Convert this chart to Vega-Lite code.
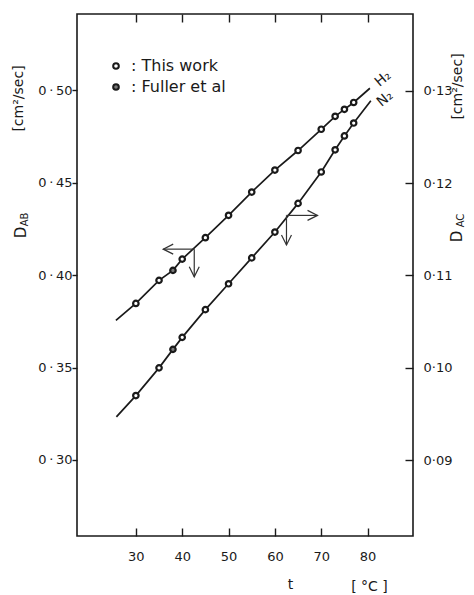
{
  "$schema": "https://vega.github.io/schema/vega-lite/v6.json",
  "width": 336,
  "height": 522,
  "autosize": {"type": "none"},
  "padding": {"left": 77, "top": 14, "right": 61, "bottom": 59},
  "background": "white",
  "config": {
    "view": {"stroke": "#1a1a1a", "strokeWidth": 1.6},
    "font": "DejaVu Sans",
    "axis": {"grid": false, "domain": false, "tickColor": "#1a1a1a", "tickWidth": 1.4, "labelColor": "#1a1a1a", "titleColor": "#1a1a1a", "labelFont": "DejaVu Sans", "titleFont": "DejaVu Sans", "titleFontWeight": "normal", "labelFontSize": 13}
  },
  "datasets": {
    "h2": [
      {"t": 30, "d": 0.3847, "src": "This work"},
      {"t": 35, "d": 0.3972, "src": "This work"},
      {"t": 38, "d": 0.4026, "src": "Fuller et al"},
      {"t": 40, "d": 0.4087, "src": "This work"},
      {"t": 45, "d": 0.4203, "src": "This work"},
      {"t": 50, "d": 0.4324, "src": "This work"},
      {"t": 55, "d": 0.4450, "src": "This work"},
      {"t": 60, "d": 0.4569, "src": "This work"},
      {"t": 65, "d": 0.4675, "src": "This work"},
      {"t": 70, "d": 0.4790, "src": "This work"},
      {"t": 73, "d": 0.4860, "src": "This work"},
      {"t": 75, "d": 0.4898, "src": "This work"},
      {"t": 77, "d": 0.4935, "src": "This work"}
    ],
    "n2": [
      {"t": 30, "d": 0.0970, "src": "This work"},
      {"t": 35, "d": 0.1000, "src": "This work"},
      {"t": 38, "d": 0.1020, "src": "Fuller et al"},
      {"t": 40, "d": 0.1033, "src": "This work"},
      {"t": 45, "d": 0.1063, "src": "This work"},
      {"t": 50, "d": 0.1091, "src": "This work"},
      {"t": 55, "d": 0.1119, "src": "This work"},
      {"t": 60, "d": 0.1147, "src": "This work"},
      {"t": 65, "d": 0.1178, "src": "This work"},
      {"t": 70, "d": 0.1212, "src": "This work"},
      {"t": 73, "d": 0.1236, "src": "This work"},
      {"t": 75, "d": 0.1251, "src": "This work"},
      {"t": 77, "d": 0.1265, "src": "This work"}
    ],
    "h2line": [
      {"t": 25.7, "d": 0.3755}, {"t": 30, "d": 0.3847}, {"t": 35, "d": 0.3972}, {"t": 38, "d": 0.4026},
      {"t": 40, "d": 0.4087}, {"t": 45, "d": 0.4203}, {"t": 50, "d": 0.4324}, {"t": 55, "d": 0.4450},
      {"t": 60, "d": 0.4569}, {"t": 65, "d": 0.4675}, {"t": 70, "d": 0.4790}, {"t": 73, "d": 0.4860},
      {"t": 75, "d": 0.4898}, {"t": 77, "d": 0.4935}, {"t": 80.5, "d": 0.5012}
    ],
    "n2line": [
      {"t": 25.8, "d": 0.0947}, {"t": 30, "d": 0.0970}, {"t": 35, "d": 0.1000}, {"t": 38, "d": 0.1020},
      {"t": 40, "d": 0.1033}, {"t": 45, "d": 0.1063}, {"t": 50, "d": 0.1091}, {"t": 55, "d": 0.1119},
      {"t": 60, "d": 0.1147}, {"t": 65, "d": 0.1178}, {"t": 70, "d": 0.1212}, {"t": 73, "d": 0.1236},
      {"t": 75, "d": 0.1251}, {"t": 77, "d": 0.1265}, {"t": 80.7, "d": 0.1289}
    ],
    "h2arrows": [
      {"t": 42.6, "t2": 35.9, "d": 0.4141, "d2": 0.4141},
      {"t": 42.6, "t2": 42.6, "d": 0.4141, "d2": 0.3991}
    ],
    "n2arrows": [
      {"t": 62.5, "t2": 69.2, "d": 0.1165, "d2": 0.1165},
      {"t": 62.5, "t2": 62.5, "d": 0.1165, "d2": 0.1133}
    ],
    "h2heads": [{"t": 35.9, "d": 0.4141, "dir": "left"}, {"t": 42.6, "d": 0.3991, "dir": "down"}],
    "n2heads": [{"t": 69.2, "d": 0.1165, "dir": "right"}, {"t": 62.5, "d": 0.1133, "dir": "down"}],
    "h2lab": [{"t": 83.35, "d": 0.5062, "name": "H₂"}],
    "n2lab": [{"t": 83.8, "d": 0.1291, "name": "N₂"}]
  },
  "layer": [
    {
      "layer": [
        {
          "data": {"name": "h2line"},
          "mark": {"type": "line", "color": "#1a1a1a", "strokeWidth": 1.7},
          "encoding": {
            "x": {"field": "t", "type": "quantitative", "scale": {"domain": [17.3, 89.8], "nice": false, "zero": false},
              "axis": {"orient": "bottom", "values": [30, 40, 50, 60, 70, 80], "ticks": true, "tickSize": -8, "labelPadding": 22, "labelFontSize": 13, "title": "t", "titleX": 213, "titleY": 48, "titleAlign": "center", "titleBaseline": "middle", "titleFontSize": 14, "titleAngle": 0}},
            "y": {"field": "d", "type": "quantitative", "scale": {"domain": [0.2588, 0.5414], "nice": false, "zero": false},
              "axis": {"orient": "left", "values": [0.3, 0.35, 0.4, 0.45, 0.5], "tickSize": 5, "labelPadding": 0, "labelExpr": "replace(format(datum.value, '.2f'), '.', '\u2009·\u2009')", "title": "D", "titleX": -57, "titleY": 218, "titleAngle": -90, "titleAlign": "center", "titleBaseline": "middle", "titleFontSize": 15}}
          }
        },
        {
          "data": {"name": "h2"},
          "mark": {"type": "point", "filled": true, "stroke": "#1a1a1a", "strokeWidth": 2.2, "size": 30, "opacity": 1},
          "encoding": {
            "x": {"field": "t", "type": "quantitative", "scale": {"domain": [17.3, 89.8], "nice": false, "zero": false}},
            "y": {"field": "d", "type": "quantitative", "scale": {"domain": [0.2588, 0.5414], "nice": false, "zero": false},
              "axis": {"orient": "left", "labels": false, "ticks": false, "domain": false, "title": "AB", "titleX": -53, "titleY": 205, "titleAngle": -90, "titleAlign": "center", "titleBaseline": "middle", "titleFontSize": 10}},
            "fill": {"field": "src", "type": "nominal", "scale": {"domain": ["This work", "Fuller et al"], "range": ["#ffffff", "#7a7a7a"]},
              "legend": {"orient": "none", "legendX": 31, "legendY": 44, "title": null, "labelExpr": "': ' + datum.label", "labelFont": "DejaVu Sans", "labelFontSize": 16, "labelColor": "#1a1a1a", "symbolType": "circle", "symbolSize": 32, "symbolStrokeColor": "#1a1a1a", "symbolStrokeWidth": 2, "rowPadding": 5, "labelOffset": 7, "padding": 0}}
          }
        },
        {
          "data": {"name": "h2arrows"},
          "mark": {"type": "rule", "color": "#333333", "strokeWidth": 1.2},
          "encoding": {
            "x": {"field": "t", "type": "quantitative", "scale": {"domain": [17.3, 89.8], "nice": false, "zero": false}},
            "x2": {"field": "t2"},
            "y": {"field": "d", "type": "quantitative", "scale": {"domain": [0.2588, 0.5414], "nice": false, "zero": false},
              "axis": {"orient": "left", "labels": false, "ticks": false, "domain": false, "title": "[cm²/sec]", "titleX": -59, "titleY": 84, "titleAngle": -90, "titleAlign": "center", "titleBaseline": "middle", "titleFontSize": 14}},
            "y2": {"field": "d2"}
          }
        },
        {
          "data": {"name": "h2heads"},
          "mark": {"type": "point", "filled": false, "stroke": "#333333", "strokeWidth": 1.2, "size": 100, "opacity": 1},
          "encoding": {
            "x": {"field": "t", "type": "quantitative", "scale": {"domain": [17.3, 89.8], "nice": false, "zero": false}},
            "y": {"field": "d", "type": "quantitative", "scale": {"domain": [0.2588, 0.5414], "nice": false, "zero": false}, "axis": null},
            "shape": {"field": "dir", "type": "nominal", "scale": {"domain": ["left", "down", "right"], "range": ["M2,-1L0,0L2,1", "M-1,-2L0,0L1,-2", "M-2,-1L0,0L-2,1"]}, "legend": null}
          }
        },
        {
          "data": {"name": "h2lab"},
          "mark": {"type": "text", "angle": -40, "font": "DejaVu Sans", "fontSize": 14, "color": "#1a1a1a", "align": "center", "baseline": "middle"},
          "encoding": {
            "x": {"field": "t", "type": "quantitative", "scale": {"domain": [17.3, 89.8], "nice": false, "zero": false}},
            "y": {"field": "d", "type": "quantitative", "scale": {"domain": [0.2588, 0.5414], "nice": false, "zero": false}, "axis": null},
            "text": {"field": "name"}
          }
        }
      ],
      "resolve": {"axis": {"y": "independent"}}
    },
    {
      "layer": [
        {
          "data": {"name": "n2line"},
          "mark": {"type": "line", "color": "#1a1a1a", "strokeWidth": 1.7},
          "encoding": {
            "x": {"field": "t", "type": "quantitative", "scale": {"domain": [17.3, 89.8], "nice": false, "zero": false},
              "axis": {"orient": "top", "values": [30, 40, 50, 60, 70, 80], "ticks": true, "tickSize": 8, "offset": -8, "tickColor": "#1a1a1a", "tickWidth": 1.4, "labels": false, "title": "[ °C ]", "titleX": 292, "titleY": 564, "titleAlign": "center", "titleBaseline": "middle", "titleFontSize": 14, "titleAngle": 0}},
            "y": {"field": "d", "type": "quantitative", "scale": {"domain": [0.0818, 0.1383], "nice": false, "zero": false},
              "axis": {"orient": "right", "values": [0.09, 0.1, 0.11, 0.12, 0.13], "ticks": true, "tickSize": 8, "tickColor": "#1a1a1a", "tickWidth": 1.4, "offset": -8, "labelPadding": 10, "labelExpr": "replace(format(datum.value, '.2f'), '.', '·')", "title": "D", "titleX": 51, "titleY": 222, "titleAngle": -90, "titleAlign": "center", "titleBaseline": "middle", "titleFontSize": 15}}
          }
        },
        {
          "data": {"name": "n2"},
          "mark": {"type": "point", "filled": true, "stroke": "#1a1a1a", "strokeWidth": 2.2, "size": 30, "opacity": 1},
          "encoding": {
            "x": {"field": "t", "type": "quantitative", "scale": {"domain": [17.3, 89.8], "nice": false, "zero": false}},
            "y": {"field": "d", "type": "quantitative", "scale": {"domain": [0.0818, 0.1383], "nice": false, "zero": false},
              "axis": {"orient": "right", "labels": false, "ticks": false, "domain": false, "title": "AC", "titleX": 47, "titleY": 206, "titleAngle": -90, "titleAlign": "center", "titleBaseline": "middle", "titleFontSize": 10}},
            "fill": {"field": "src", "type": "nominal", "scale": {"domain": ["This work", "Fuller et al"], "range": ["#ffffff", "#7a7a7a"]}}
          }
        },
        {
          "data": {"name": "n2arrows"},
          "mark": {"type": "rule", "color": "#333333", "strokeWidth": 1.2},
          "encoding": {
            "x": {"field": "t", "type": "quantitative", "scale": {"domain": [17.3, 89.8], "nice": false, "zero": false}},
            "x2": {"field": "t2"},
            "y": {"field": "d", "type": "quantitative", "scale": {"domain": [0.0818, 0.1383], "nice": false, "zero": false},
              "axis": {"orient": "right", "labels": false, "ticks": false, "domain": false, "title": "[cm²/sec]", "titleX": 44, "titleY": 72, "titleAngle": -90, "titleAlign": "center", "titleBaseline": "middle", "titleFontSize": 14}},
            "y2": {"field": "d2"}
          }
        },
        {
          "data": {"name": "n2heads"},
          "mark": {"type": "point", "filled": false, "stroke": "#333333", "strokeWidth": 1.2, "size": 100, "opacity": 1},
          "encoding": {
            "x": {"field": "t", "type": "quantitative", "scale": {"domain": [17.3, 89.8], "nice": false, "zero": false}},
            "y": {"field": "d", "type": "quantitative", "scale": {"domain": [0.0818, 0.1383], "nice": false, "zero": false}, "axis": null},
            "shape": {"field": "dir", "type": "nominal", "scale": {"domain": ["left", "down", "right"], "range": ["M2,-1L0,0L2,1", "M-1,-2L0,0L1,-2", "M-2,-1L0,0L-2,1"]}, "legend": null}
          }
        },
        {
          "data": {"name": "n2lab"},
          "mark": {"type": "text", "angle": -40, "font": "DejaVu Sans", "fontSize": 14, "color": "#1a1a1a", "align": "center", "baseline": "middle"},
          "encoding": {
            "x": {"field": "t", "type": "quantitative", "scale": {"domain": [17.3, 89.8], "nice": false, "zero": false}},
            "y": {"field": "d", "type": "quantitative", "scale": {"domain": [0.0818, 0.1383], "nice": false, "zero": false}, "axis": null},
            "text": {"field": "name"}
          }
        }
      ],
      "resolve": {"axis": {"y": "independent"}}
    }
  ],
  "resolve": {"scale": {"y": "independent"}, "axis": {"x": "independent"}}
}
